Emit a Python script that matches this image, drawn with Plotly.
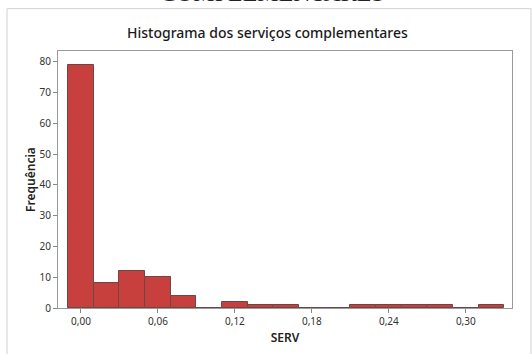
import plotly.graph_objects as go

# Histogram of complementary services (SERV), bin width 0.02 centred on multiples of 0.02
bin_centers = [0.00, 0.02, 0.04, 0.06, 0.08, 0.10, 0.12, 0.14, 0.16, 0.18,
               0.20, 0.22, 0.24, 0.26, 0.28, 0.30, 0.32]
frequencies = [79, 8, 12, 10, 4, 0, 2, 1, 1, 0,
               0, 1, 1, 1, 1, 0, 1]
bin_width = 0.02

x_tick_vals = [0.00, 0.06, 0.12, 0.18, 0.24, 0.30]
x_tick_text = ["0,00", "0,06", "0,12", "0,18", "0,24", "0,30"]
y_tick_vals = [0, 10, 20, 30, 40, 50, 60, 70, 80]

W, H = 532, 354
L, R, T, B = 58, 20, 51, 42
pw, ph = W - L - R, H - T - B


def px_x(x):
    return (x - L) / pw


def px_y(y):
    return (H - B - y) / ph


fig = go.Figure(go.Bar(
    x=bin_centers,
    y=frequencies,
    width=[bin_width] * len(bin_centers),
    marker=dict(color="#C8403D", line=dict(color="#6E4646", width=1)),
    hoverinfo="x+y",
))

fig.update_layout(
    width=W, height=H,
    margin=dict(l=L, r=R, t=T, b=B),
    paper_bgcolor="white",
    plot_bgcolor="white",
    showlegend=False,
    bargap=0,
    font=dict(family="Noto Sans, sans-serif", color="#333333", size=10),
)

fig.update_xaxes(
    range=[-0.0179, 0.336],
    tickvals=x_tick_vals, ticktext=x_tick_text,
    ticks="outside", ticklen=4, tickcolor="#888888",
    showline=True, linecolor="#9a9a9a", linewidth=1, mirror=True,
    showgrid=False, zeroline=False,
    tickfont=dict(size=10, color="#333333"),
    title=dict(text="SERV", font=dict(size=12, color="#222222", weight=600), standoff=6),
)
fig.update_yaxes(
    range=[0, 83.5],
    tickvals=y_tick_vals,
    ticks="outside", ticklen=4, tickcolor="#888888",
    showline=True, linecolor="#9a9a9a", linewidth=1, mirror=True,
    showgrid=False, zeroline=False,
    tickfont=dict(size=10, color="#333333"),
    title=dict(text="Frequência", font=dict(size=12, color="#222222", weight=600), standoff=1),
)

# Graph window frame
fig.add_shape(type="rect", xref="paper", yref="paper",
              x0=px_x(7), x1=px_x(531), y0=px_y(362), y1=px_y(8),
              line=dict(color="#d0d0d0", width=1), fillcolor="rgba(0,0,0,0)", layer="below")

# Chart title
fig.add_annotation(text="Histograma dos serviços complementares",
                   xref="paper", yref="paper", x=px_x(267), y=px_y(32),
                   xanchor="center", yanchor="middle", showarrow=False,
                   font=dict(size=14, color="#1a1a1a", weight=500))

# Section heading running above the graph window
fig.add_annotation(text="COMPLEMENTARES",
                   xref="paper", yref="paper", x=px_x(272), y=px_y(7),
                   xanchor="center", yanchor="bottom", showarrow=False,
                   font=dict(family="Liberation Serif, serif", size=24, color="#222222"))

fig.write_html("out.html")
